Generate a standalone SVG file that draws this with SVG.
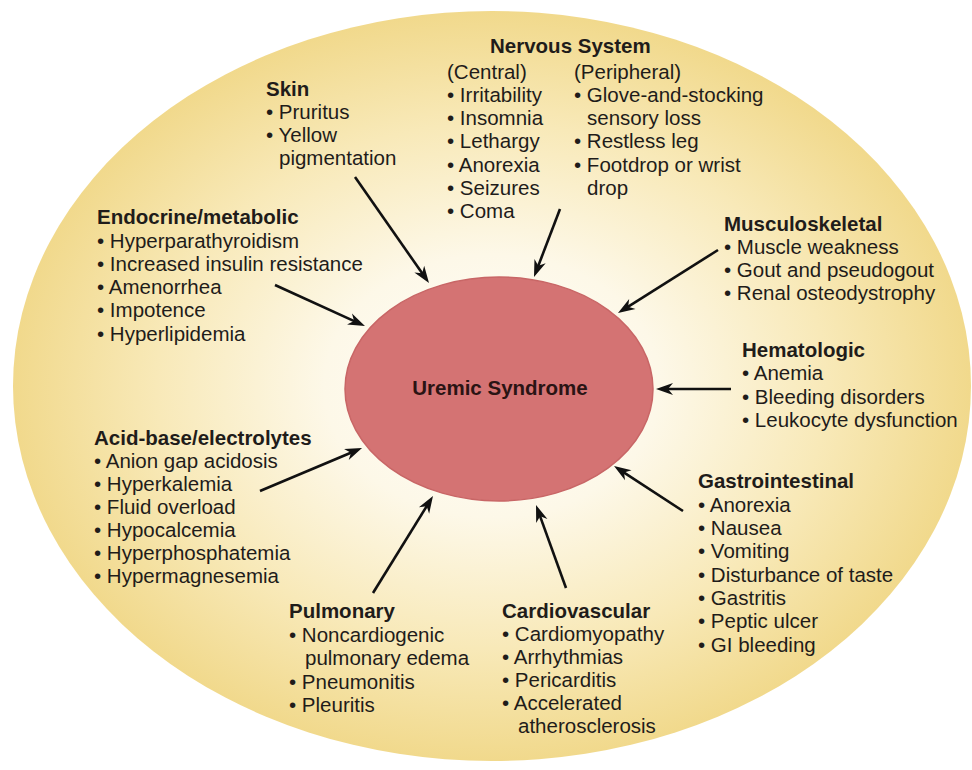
<svg xmlns="http://www.w3.org/2000/svg" width="972" height="770" viewBox="0 0 972 770">
<style>
.h{font-family:"Liberation Sans",Arial,Helvetica,sans-serif;font-size:20.5px;font-weight:bold;fill:#1f1c1a}
.t{font-family:"Liberation Sans",Arial,Helvetica,sans-serif;font-size:20.5px;fill:#1f1c1a}
.c{font-family:"Liberation Sans",Arial,Helvetica,sans-serif;font-size:20.5px;font-weight:bold;fill:#2a1414}
.ar{stroke:#111;stroke-width:2.6;fill:none;marker-end:url(#ah)}
</style>
<defs>
<radialGradient id="bg" cx="0.5" cy="0.5" r="0.5">
<stop offset="0" stop-color="#fffefa"/>
<stop offset="0.35" stop-color="#fdf8e8"/>
<stop offset="0.7" stop-color="#f8e9b8"/>
<stop offset="1" stop-color="#f1d98c"/>
</radialGradient>
<marker id="ah" viewBox="-11 -7 19 14" refX="0" refY="0" markerWidth="19" markerHeight="14" orient="auto" markerUnits="userSpaceOnUse">
<path d="M7,0 L-10,-6 L-5,0 L-10,6 Z" fill="#111"/>
</marker>
</defs>
<rect width="972" height="770" fill="#ffffff"/>
<ellipse id="outer" cx="492" cy="386" rx="479" ry="375" fill="url(#bg)"/>
<g id="center">
<ellipse cx="499" cy="389" rx="154" ry="112" fill="#d47373" stroke="#c86666" stroke-width="1.5"/>
<text class="c" x="500" y="395" text-anchor="middle">Uremic Syndrome</text>
</g>
<g id="connectors">
<line class="ar" x1="355" y1="177" x2="425" y2="277.3"/>
<line class="ar" x1="275" y1="285" x2="358.6" y2="323.1"/>
<line class="ar" x1="560" y1="209" x2="536.5" y2="270.5"/>
<line class="ar" x1="718" y1="250" x2="623.9" y2="309.3"/>
<line class="ar" x1="731" y1="389" x2="663" y2="389"/>
<line class="ar" x1="683" y1="511" x2="619.9" y2="469.8"/>
<line class="ar" x1="566" y1="588" x2="538.4" y2="511.6"/>
<line class="ar" x1="373" y1="593" x2="429.3" y2="502"/>
<line class="ar" x1="260" y1="491" x2="355.6" y2="450.7"/>
</g>
<g id="nervous">
<text class="h" x="490" y="53">Nervous System</text>
<text class="t" x="447" y="79">(Central)</text>
<text class="t" x="447" y="102">• Irritability</text>
<text class="t" x="447" y="125">• Insomnia</text>
<text class="t" x="447" y="148">• Lethargy</text>
<text class="t" x="447" y="172">• Anorexia</text>
<text class="t" x="447" y="195">• Seizures</text>
<text class="t" x="447" y="218">• Coma</text>
<text class="t" x="574" y="79">(Peripheral)</text>
<text class="t" x="574" y="102">• Glove-and-stocking</text>
<text class="t" x="587" y="125">sensory loss</text>
<text class="t" x="574" y="148">• Restless leg</text>
<text class="t" x="574" y="172">• Footdrop or wrist</text>
<text class="t" x="587" y="195">drop</text>
</g>
<g id="skin">
<text class="h" x="266" y="96">Skin</text>
<text class="t" x="266" y="119">• Pruritus</text>
<text class="t" x="266" y="142">• Yellow</text>
<text class="t" x="279" y="165">pigmentation</text>
</g>
<g id="endocrine">
<text class="h" x="97" y="224">Endocrine/metabolic</text>
<text class="t" x="97" y="248">• Hyperparathyroidism</text>
<text class="t" x="97" y="271">• Increased insulin resistance</text>
<text class="t" x="97" y="294">• Amenorrhea</text>
<text class="t" x="97" y="317">• Impotence</text>
<text class="t" x="97" y="341">• Hyperlipidemia</text>
</g>
<g id="musculoskeletal">
<text class="h" x="724" y="231">Musculoskeletal</text>
<text class="t" x="724" y="254">• Muscle weakness</text>
<text class="t" x="724" y="277">• Gout and pseudogout</text>
<text class="t" x="724" y="300">• Renal osteodystrophy</text>
</g>
<g id="hematologic">
<text class="h" x="742" y="357">Hematologic</text>
<text class="t" x="742" y="380">• Anemia</text>
<text class="t" x="742" y="404">• Bleeding disorders</text>
<text class="t" x="742" y="427">• Leukocyte dysfunction</text>
</g>
<g id="gastrointestinal">
<text class="h" x="698" y="488">Gastrointestinal</text>
<text class="t" x="698" y="512">• Anorexia</text>
<text class="t" x="698" y="535">• Nausea</text>
<text class="t" x="698" y="558">• Vomiting</text>
<text class="t" x="698" y="582">• Disturbance of taste</text>
<text class="t" x="698" y="605">• Gastritis</text>
<text class="t" x="698" y="628">• Peptic ulcer</text>
<text class="t" x="698" y="652">• GI bleeding</text>
</g>
<g id="cardiovascular">
<text class="h" x="502" y="618">Cardiovascular</text>
<text class="t" x="502" y="641">• Cardiomyopathy</text>
<text class="t" x="502" y="664">• Arrhythmias</text>
<text class="t" x="502" y="687">• Pericarditis</text>
<text class="t" x="502" y="710">• Accelerated</text>
<text class="t" x="518" y="733">atherosclerosis</text>
</g>
<g id="pulmonary">
<text class="h" x="289" y="618">Pulmonary</text>
<text class="t" x="289" y="642">• Noncardiogenic</text>
<text class="t" x="305" y="665">pulmonary edema</text>
<text class="t" x="289" y="689">• Pneumonitis</text>
<text class="t" x="289" y="712">• Pleuritis</text>
</g>
<g id="acidbase">
<text class="h" x="94" y="445">Acid-base/electrolytes</text>
<text class="t" x="94" y="468">• Anion gap acidosis</text>
<text class="t" x="94" y="491">• Hyperkalemia</text>
<text class="t" x="94" y="514">• Fluid overload</text>
<text class="t" x="94" y="537">• Hypocalcemia</text>
<text class="t" x="94" y="560">• Hyperphosphatemia</text>
<text class="t" x="94" y="583">• Hypermagnesemia</text>
</g>
</svg>
